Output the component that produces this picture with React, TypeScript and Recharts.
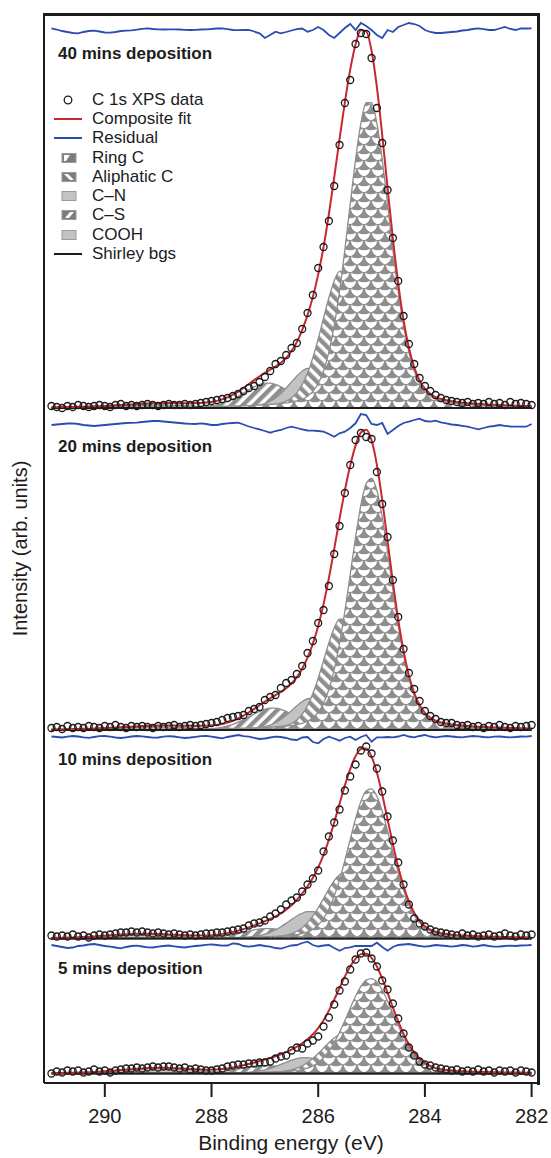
import React from 'react';
import { ComposedChart, Area, Line, XAxis, YAxis, Legend, ReferenceDot } from 'recharts';

// energy grid of the scan (eV), high -> low
const E_START = 291.0;
const E_STEP = 0.1;
const X_DOMAIN = [281.88, 291.14];
const Y_DOMAIN = [0, 1069];

const panelTitles = ['40 mins deposition', '20 mins deposition', '10 mins deposition', '5 mins deposition'];
// vertical stacking of the four spectra (arb. units)
const baselines = [675, 353, 144.5, 9.5];
const residualLevels = [1053, 658, 346, 137];
const titleLevels = [1030, 637, 324, 115];
const TITLE_X = 290.97;

// measured C 1s intensities above the Shirley background, 291.0 -> 282.0 eV
const data40 = [
  2, 1, 0, 2, 1, 3, 2, 1, 2, 3,
  2, 1, 3, 4, 2, 3, 2, 3, 4, 3,
  2, 3, 4, 3, 3, 4, 3, 4, 5, 6,
  7, 8, 9, 10, 12, 14, 17, 20, 22, 26,
  31, 37, 44, 47, 53, 60, 65, 79, 95, 113,
  140, 161, 187, 222, 263, 305, 328, 364, 375, 374,
  350, 300, 265, 218, 170, 127, 92, 64, 44, 30,
  22, 17, 13, 10, 8, 7, 6, 5, 6, 4,
  5, 4, 6, 4, 5, 3, 6, 4, 5, 4, 3,
];
const data20 = [
  2, 3, 1, 4, 2, 3, 2, 4, 3, 2,
  4, 3, 5, 3, 2, 4, 3, 4, 3, 2,
  4, 3, 4, 5, 3, 4, 5, 4, 5, 6,
  7, 8, 10, 12, 13, 14, 15, 19, 21, 23,
  30, 33, 35, 42, 47, 50, 56, 64, 77, 89,
  107, 120, 144, 176, 204, 237, 265, 290, 297, 293,
  291, 258, 226, 193, 150, 113, 81, 57, 41, 29,
  19, 14, 11, 8, 7, 7, 5, 4, 5, 3,
  4, 2, 4, 3, 5, 3, 2, 4, 3, 4, 5,
];
const data10 = [
  3, 2, 3, 2, 4, 2, 3, 1, 3, 4,
  3, 4, 5, 6, 6, 7, 6, 7, 6, 5,
  6, 5, 4, 5, 4, 3, 4, 3, 4, 5,
  5, 6, 6, 7, 8, 9, 10, 13, 15, 16,
  18, 22, 25, 29, 34, 38, 41, 47, 54, 60,
  68, 87, 102, 116, 129, 148, 162, 174, 188, 192,
  185, 170, 147, 122, 98, 76, 54, 34, 20, 15,
  12, 9, 7, 6, 5, 4, 3, 5, 3, 4,
  2, 3, 4, 2, 3, 5, 3, 2, 4, 3, 4,
];
const data5 = [
  0, 2, 1, 3, 2, 3, 1, 2, 4, 2,
  3, 1, 3, 4, 5, 5, 6, 5, 6, 7,
  6, 7, 7, 6, 5, 6, 4, 5, 4, 3,
  3, 4, 5, 7, 8, 9, 9, 10, 10, 11,
  11, 12, 15, 17, 18, 23, 26, 25, 30, 33,
  37, 47, 56, 69, 83, 92, 104, 114, 120, 121,
  115, 107, 93, 84, 70, 55, 40, 26, 18, 12,
  9, 8, 6, 5, 4, 3, 4, 2, 3, 2,
  4, 2, 3, 1, 3, 2, 3, 1, 3, 2, 1,
];

// residuals (data - fit), same grid
const resid40 = [
  1.7, 0.5, -1, -2, -3, -3.3, -2, -1, -0.7, -1.5,
  -2.5, -2.7, -2, -1, -0.7, -0.3, 0.3, 1.2, 1.7, 1,
  0.7, 0.5, 0.7, 0.7, 0.5, 0.2, 0, 0.2, 0.5, 0.7,
  1, 1.5, 1.7, 0.8, 0, -0.2, 0, 0, -1.5, -3.3,
  -8, -5, -1.7, -3.3, -2, -0.5, 0.8, 1.5, -1.7, 0,
  3, 0, -5, -8, -3, 2, 6, 0, 7, 4,
  0, -5, -8, 0, -2, 3, 5, 7, 6, 4,
  0, -2, -3, -3, -2.5, -2, -1.5, -0.5, 0, 1,
  1.7, 0.8, 0, 0, 1.5, 3, 1, 0, 1.7, 1.5, 1.7,
];
const resid20 = [
  0, 0.5, 1, 1.5, 1.7, 1, 0, -0.5, -1, -0.5,
  0, 0.5, 1, 1.5, 2, 2.2, 2.3, 3, 3.5, 4,
  4, 3.5, 3, 2.5, 2, 1.5, 1.2, 1, 1.7, 1,
  0, 0, 1, 1.7, 2, 2.3, 0.5, -1.5, -3, -4.3,
  -6, -7.7, -6, -5, -3, -1.7, -3, -4.3, -5.5, -5.7,
  -6, -6.7, -9, -11.7, -8.3, -6.7, -3, 1.7, 11, 10,
  1, 0, 2, -9, -5, -1, 2, 3.3, 5, 6.3,
  4, 3.3, 4.3, 2.7, 1.7, 0.5, 0, -0.8, -1.7, -3,
  -4.3, -3, -1.7, -1, 0, -0.8, -1.5, -1.7, -1.7, -1.7, 1,
];
const resid10 = [
  0.5, 0, -0.5, 0.3, 1, 0.5, -0.3, -0.8, 0, 0.8,
  1, 0.3, -0.5, -1, -0.3, 0.5, 1, 0.7, 0, -0.7,
  -0.5, 0.3, 0.8, 0.5, -0.3, -1, -0.5, 0.2, 0.8, 1.2,
  0.3, -0.5, -1.3, 0, 1, 2, 0.8, 0.3, -0.8, -2,
  -1.5, -0.5, 0.3, 0, -1, -2.5, -3, -0.5, 0, -5,
  -6.3, -2, 0.3, -1.5, -3.7, -1, 0.3, -3, 0, 2,
  -4.7, -0.3, -0.3, 0, -0.3, 0.5, 2, 0.5, -0.3, 1,
  2, 0.5, -0.3, 0.3, 1, 0.5, 0, -0.3, 0.3, 1,
  0.7, 0, -0.3, 0.3, 0.5, 0, -0.3, 0, 0.5, 0.3, 1,
];
const resid5 = [
  1, 0, -1, -2, -1.5, 0, 0.5, 1.5, 2, 1,
  0, -0.7, -1.5, -2.3, -1, 0, 0.3, -0.5, -1.3, -1.5,
  -0.7, 0, 0.5, -0.3, -1, -1.5, -0.7, 0, 0.5, 1.2,
  1.7, 1, 0.3, 0.5, 2.7, 2, 0, -0.7, 0, 1,
  0, -0.7, -2, -2.7, -1, 0.5, 1, 3, 4.3, 1,
  -0.5, 0.5, 1, -2, -4.7, -2, -1.3, 0, 0, 0,
  0, 3.3, -1, -4.7, -1, 1, 1.5, 2, 1, 0,
  -0.7, 0, 1, 0.5, 0, -0.7, 0, 1, 0.5, -0.7,
  0, 1, 0, -0.7, -0.5, 0, 0.3, 0, 0.5, 0.7, 1,
];

const dataSets = [data40, data20, data10, data5];
const residSets = [resid40, resid20, resid10, resid5];

// fitted peaks per panel: [centre eV, height, FWHM eV]
const ringC = [[285.05, 308, 0.92], [285.02, 252, 0.92], [285.03, 150, 0.97], [285.02, 95, 1.05]];
const aliphaticC = [[285.55, 138, 0.9], [285.55, 112, 0.85], [285.5, 66, 0.95], [285.5, 40, 1.0]];
const cN = [[286.15, 40, 0.9], [286.12, 32, 0.9], [286.15, 27, 1.0], [286.25, 16, 1.0]];
const cS = [[286.95, 25, 1.05], [286.85, 22, 1.05], [286.95, 10, 1.1], [287.0, 8, 1.1]];
const cooh = [[289.0, 3, 1.6], [289.0, 3, 1.6], [289.3, 4, 1.5], [289.0, 5, 1.6]];
const GL_MIX = 0.2;

const xTicks = [290, 288, 286, 284, 282];

const GRAY = '#8e8e8e';
const LIGHT = '#c3c3c3';
const FIT_RED = '#c8282e';
const RES_BLUE = '#2b4db3';
const INK = '#1c1c1c';
const FONT = '"Liberation Sans", Arial, Helvetica, sans-serif';

// chart layout
const CHART_W = 551;
const CHART_H = 1158;
const MARGIN = { top: 14, right: 13, bottom: 0, left: 0 };
const Y_AXIS_W = 44;
const X_AXIS_H = 75;
const PLOT = {
  x: MARGIN.left + Y_AXIS_W,
  y: MARGIN.top,
  w: CHART_W - MARGIN.left - MARGIN.right - Y_AXIS_W,
  h: CHART_H - MARGIN.top - MARGIN.bottom - X_AXIS_H,
};

// Gaussian-Lorentzian sum line shape
function glPeak(x: number, prm: number[]) {
  const [c, h, w] = prm;
  const u = (x - c) / w;
  return h * ((1 - GL_MIX) * Math.exp(-4 * Math.LN2 * u * u) + GL_MIX / (1 + 4 * u * u));
}

const compKeys = ['cooh', 'cs', 'cn', 'ali', 'ring'];
const compParams = [cooh, cS, cN, aliphaticC, ringC];
const compFill: Record<string, string> = {
  cooh: LIGHT,
  cs: 'url(#hatchCS)',
  cn: LIGHT,
  ali: 'url(#hatchAli)',
  ring: 'url(#scaleRing)',
};

const rows = data40.map((_, i) => {
  const e = +(E_START - i * E_STEP).toFixed(2);
  const row: Record<string, any> = { e };
  for (let p = 0; p < 4; p++) {
    const base = baselines[p];
    let sum = 0;
    compKeys.forEach((k, j) => {
      const v = glPeak(e, compParams[j][p]);
      sum += v;
      row[`${k}${p}`] = [base, base + v];
    });
    row[`fit${p}`] = base + sum;
    row[`bg${p}`] = base;
    row[`d${p}`] = base + dataSets[p][i];
    row[`r${p}`] = residualLevels[p] + residSets[p][i];
  }
  return row;
});

const legendLabels = ['C 1s XPS data', 'Composite fit', 'Residual', 'Ring C', 'Aliphatic C', 'C–N', 'C–S', 'COOH', 'Shirley bgs'];
const legendKinds = ['circle', 'fit', 'res', 'ring', 'ali', 'cn', 'cs', 'cooh', 'bg'];

function LegendIcon({ kind }: { kind: string }) {
  const line = (c: string) => <line x1={2} x2={30} y1={6} y2={6} stroke={c} strokeWidth={2} />;
  let body: React.ReactNode = null;
  if (kind === 'circle') body = <circle cx={16} cy={6} r={3.8} fill="none" stroke={INK} strokeWidth={1.3} />;
  else if (kind === 'fit') body = line(FIT_RED);
  else if (kind === 'res') body = line(RES_BLUE);
  else if (kind === 'bg') body = line(INK);
  else if (kind === 'cn' || kind === 'cooh')
    body = <rect x={10} y={1.5} width={14} height={9} fill={LIGHT} stroke="#9a9a9a" />;
  else {
    const white =
      kind === 'ring' ? '12,3 18,3 14,9 12,9' : kind === 'ali' ? '12,3 16,3 22,9 18,9' : '13,9 17,9 22,3 18,3';
    body = (
      <g>
        <rect x={10} y={1.5} width={14} height={9} fill="#7c7c7c" stroke="#9a9a9a" />
        <polygon points={white} fill="#fff" />
      </g>
    );
  }
  return (
    <svg width={32} height={12} style={{ display: 'block' }}>
      {body}
    </svg>
  );
}

function LegendBox() {
  return (
    <div style={{ fontFamily: FONT, fontSize: 17, color: INK }}>
      {legendLabels.map((lab, i) => (
        <div key={lab} style={{ display: 'flex', alignItems: 'center', height: 19.3, whiteSpace: 'nowrap' }}>
          <LegendIcon kind={legendKinds[i]} />
          <span style={{ marginLeft: 8 }}>{lab}</span>
        </div>
      ))}
    </div>
  );
}

export default function App() {
  const axisStroke = { stroke: INK, strokeWidth: 2 };
  return (
    <div style={{ position: 'absolute', left: 0, top: 0, width: CHART_W, height: CHART_H, background: '#fff' }}>
      <ComposedChart width={CHART_W} height={CHART_H} data={rows} margin={MARGIN}>
        <defs>
          <pattern id="hatchAli" width="8" height="8" patternUnits="userSpaceOnUse" patternTransform="rotate(-45)">
            <rect width="8" height="8" fill="#fff" />
            <rect width="4.4" height="8" fill={GRAY} />
          </pattern>
          <pattern id="hatchCS" width="8" height="8" patternUnits="userSpaceOnUse" patternTransform="rotate(45)">
            <rect width="8" height="8" fill="#fff" />
            <rect width="4.4" height="8" fill={GRAY} />
          </pattern>
          <pattern id="scaleRing" width="14" height="16" patternUnits="userSpaceOnUse">
            <rect width="14" height="16" fill={GRAY} />
            <path d="M1,0.8 Q7,3.8 13,0.8 Q13,6.2 7,8.4 Q1,6.2 1,0.8Z" fill="#fff" />
            <path d="M-6,8.8 Q0,11.8 6,8.8 Q6,14.2 0,16.4 Q-6,14.2 -6,8.8Z" fill="#fff" />
            <path d="M8,8.8 Q14,11.8 20,8.8 Q20,14.2 14,16.4 Q8,14.2 8,8.8Z" fill="#fff" />
          </pattern>
        </defs>
        <XAxis
          dataKey="e"
          type="number"
          domain={X_DOMAIN}
          reversed
          allowDataOverflow
          ticks={xTicks}
          height={X_AXIS_H}
          tickSize={14}
          tickMargin={12}
          axisLine={axisStroke}
          tickLine={axisStroke}
          tick={{ fontSize: 20, fill: INK, fontFamily: FONT }}
          label={{ value: 'Binding energy (eV)', position: 'insideBottom', offset: 8, fontSize: 21, fill: INK, fontFamily: FONT }}
        />
        <YAxis
          type="number"
          domain={Y_DOMAIN}
          allowDataOverflow
          width={Y_AXIS_W}
          tick={false}
          tickLine={false}
          axisLine={axisStroke}
          label={{ value: 'Intensity (arb. units)', angle: -90, position: 'center', dx: -2, fontSize: 20, fill: INK, fontFamily: FONT }}
        />

        {[0, 1, 2, 3].flatMap((p) =>
          compKeys.map((k) => (
            <Area
              key={`${k}${p}`}
              dataKey={`${k}${p}`}
              type="monotone"
              fill={compFill[k]}
              fillOpacity={1}
              stroke={GRAY}
              strokeWidth={1.3}
              dot={false}
              activeDot={false}
              legendType="none"
              isAnimationActive={false}
            />
          )),
        )}
        {[0, 1, 2, 3].map((p) => (
          <Line key={`bg${p}`} dataKey={`bg${p}`} type="linear" stroke={INK} strokeWidth={2} dot={false} activeDot={false} legendType="none" isAnimationActive={false} />
        ))}
        {[0, 1, 2, 3].map((p) => (
          <Line key={`fit${p}`} dataKey={`fit${p}`} type="monotone" stroke={FIT_RED} strokeWidth={2} dot={false} activeDot={false} legendType="none" isAnimationActive={false} />
        ))}
        {[0, 1, 2, 3].map((p) => (
          <Line
            key={`d${p}`}
            dataKey={`d${p}`}
            stroke="none"
            dot={{ r: 3.5, stroke: INK, strokeWidth: 1.3, fill: 'none' }}
            activeDot={false}
            legendType="none"
            isAnimationActive={false}
          />
        ))}
        {[0, 1, 2, 3].map((p) => (
          <Line key={`r${p}`} dataKey={`r${p}`} type="linear" stroke={RES_BLUE} strokeWidth={1.8} dot={false} activeDot={false} legendType="none" isAnimationActive={false} />
        ))}
        {[0, 1, 2, 3].map((p) => (
          <ReferenceDot
            key={`t${p}`}
            x={TITLE_X}
            y={titleLevels[p]}
            r={0}
            fill="none"
            stroke="none"
            label={{ value: panelTitles[p], position: 'right', offset: 5, fontSize: 17, fontWeight: 700, fill: INK, fontFamily: FONT }}
          />
        ))}
        <Legend
          layout="horizontal"
          verticalAlign="middle"
          align="center"
          wrapperStyle={{ left: 52, top: 90, width: 'auto', height: 'auto' }}
          content={() => <LegendBox />}
        />
      </ComposedChart>
      {/* top and right edges of the box around the plot area */}
      <div
        style={{
          position: 'absolute',
          left: PLOT.x - 1,
          top: PLOT.y - 1.5,
          width: PLOT.w - 0.5,
          height: PLOT.h,
          borderTop: `3px solid ${INK}`,
          borderRight: `3px solid ${INK}`,
          pointerEvents: 'none',
        }}
      />
    </div>
  );
}
